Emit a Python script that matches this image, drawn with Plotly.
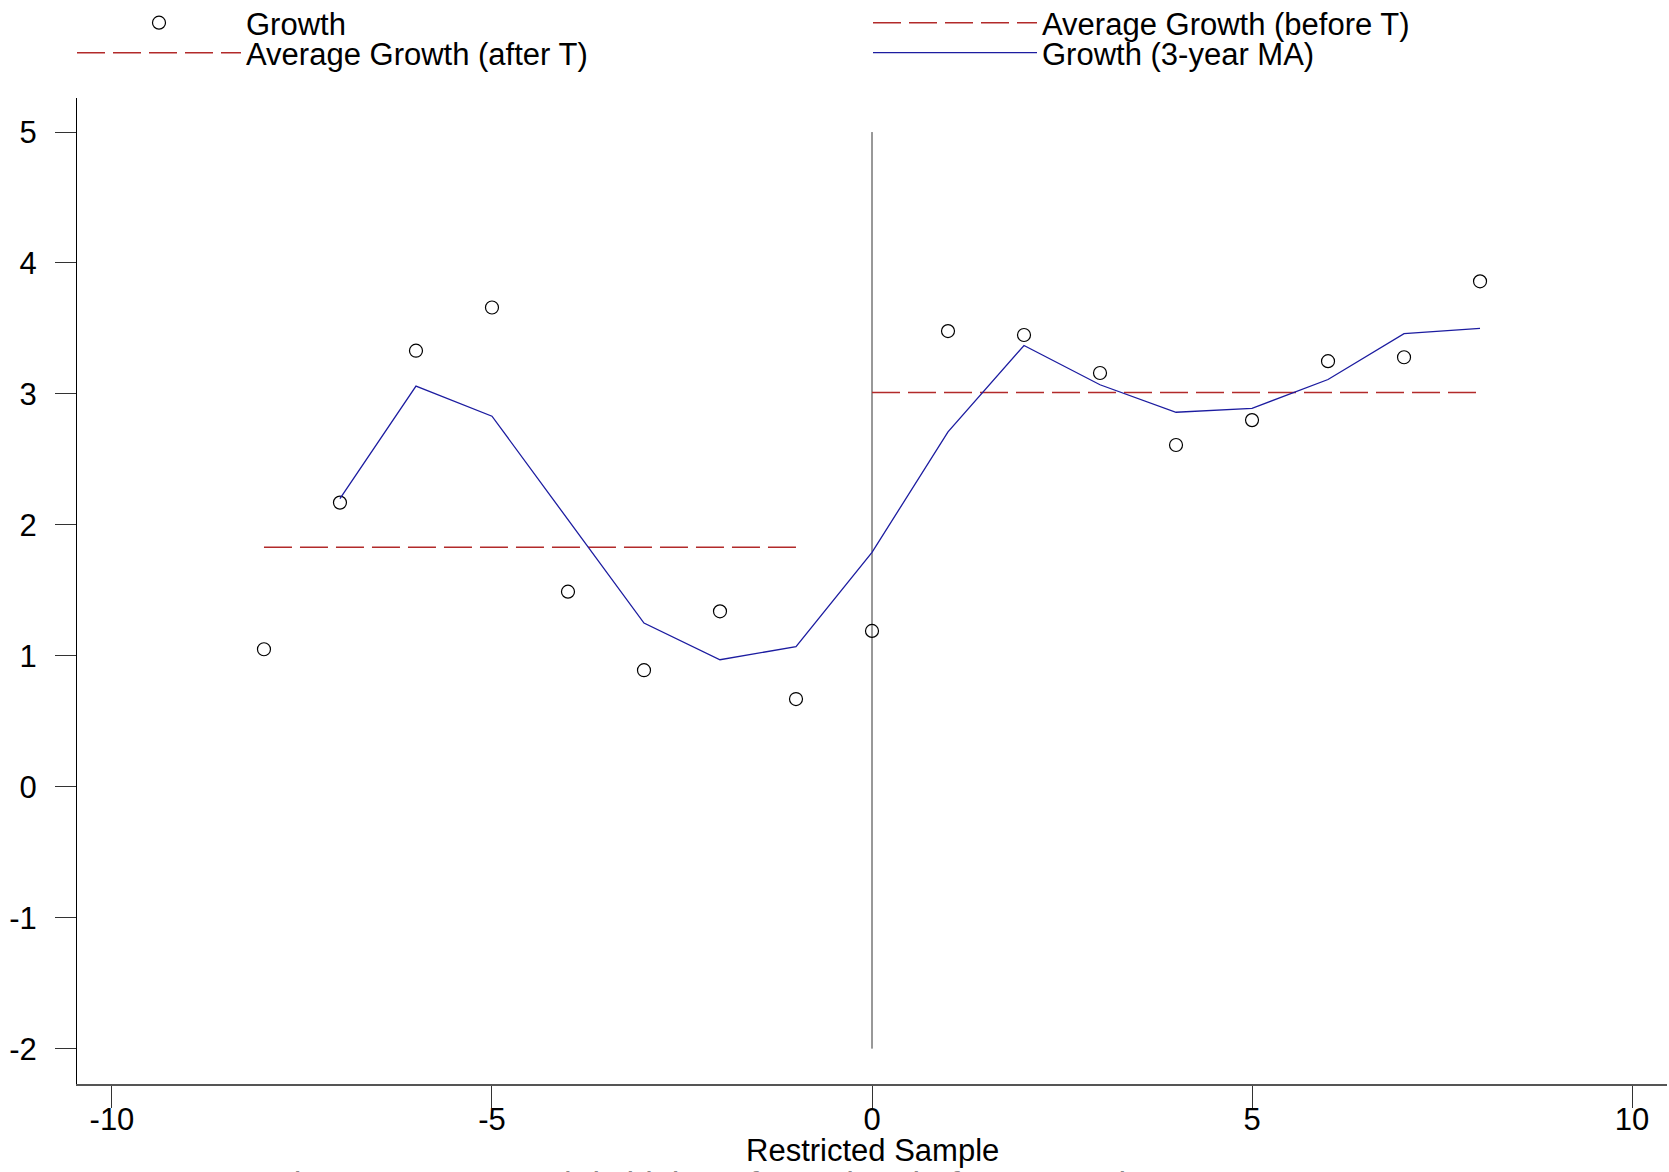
import plotly.graph_objects as go

# Years relative to the break point T
years = [-8, -7, -6, -5, -4, -3, -2, -1, 0, 1, 2, 3, 4, 5, 6, 7, 8]
growth = [1.05, 2.17, 3.33, 3.66, 1.49, 0.89, 1.34, 0.67, 1.19,
          3.48, 3.45, 3.16, 2.61, 2.80, 3.25, 3.28, 3.86]

# 3-year moving average of growth
ma_years = [-7, -6, -5, -4, -3, -2, -1, 0, 1, 2, 3, 4, 5, 6, 7, 8]
growth_ma = [2.20, 3.06, 2.83, 2.04, 1.25, 0.97, 1.07, 1.79,
             2.71, 3.37, 3.07, 2.86, 2.89, 3.11, 3.46, 3.50]

# Period averages
before_years = [-8, -1]
avg_before = 1.83
after_years = [0, 8]
avg_after = 3.01

# Break marker
break_year = 0
break_span = [5, -2]

x_ticks = [-10, -5, 0, 5, 10]
y_ticks = [-2, -1, 0, 1, 2, 3, 4, 5]

FONT = "Liberation Sans, Arial, sans-serif"
FS = 31
RED = "#b22a2a"
BLUE = "#1c1ca0"

fig = go.Figure()

fig.add_trace(go.Scatter(
    x=[break_year, break_year], y=break_span, mode="lines",
    line=dict(color="#333333", width=1), showlegend=False, hoverinfo="skip"))

fig.add_trace(go.Scatter(
    x=years, y=growth, mode="markers", name="Growth",
    marker=dict(symbol="circle-open", size=13, color="black",
                line=dict(width=1.2, color="black")),
    legend="legend"))

fig.add_trace(go.Scatter(
    x=before_years, y=[avg_before] * len(before_years), mode="lines",
    name="Average Growth (before T)",
    line=dict(color=RED, width=1.5, dash="28px,8px"),
    legend="legend2"))

fig.add_trace(go.Scatter(
    x=after_years, y=[avg_after] * len(after_years), mode="lines",
    name="Average Growth (after T)",
    line=dict(color=RED, width=1.5, dash="28px,8px"),
    legend="legend3"))

fig.add_trace(go.Scatter(
    x=ma_years, y=growth_ma, mode="lines", name="Growth (3-year MA)",
    line=dict(color=BLUE, width=1.3),
    legend="legend4"))

W, H = 1669, 1172


def leg(x_px, y_px):
    return dict(
        x=x_px / W, y=1 - y_px / H, xref="container", yref="container",
        xanchor="left", yanchor="middle", orientation="v",
        bgcolor="rgba(0,0,0,0)", borderwidth=0, itemwidth=164,
        font=dict(family=FONT, size=FS, color="black"),
        itemclick=False, itemdoubleclick=False)


fig.update_layout(
    width=W, height=H,
    margin=dict(l=77, r=2, t=98, b=88, autoexpand=False),
    paper_bgcolor="white", plot_bgcolor="white",
    font=dict(family=FONT, size=FS, color="black"),
    showlegend=True,
    legend=leg(72, 23),
    legend2=leg(868, 23),
    legend3=leg(72, 53),
    legend4=leg(868, 53),
    xaxis=dict(
        range=[-10.46, 10.46], tickvals=x_ticks,
        ticktext=[str(v) for v in x_ticks],
        showgrid=False, zeroline=False, automargin=False,
        showline=True, linecolor="#555555", linewidth=2,
        ticks="outside", ticklen=22, tickwidth=1, tickcolor="#333333",
        ticklabelstandoff=-15,
        tickfont=dict(family=FONT, size=FS, color="black"),
    ),
    yaxis=dict(
        range=[-2.27, 5.26], tickvals=y_ticks,
        ticktext=[str(v) for v in y_ticks],
        showgrid=False, zeroline=False, automargin=False,
        showline=True, linecolor="black", linewidth=1,
        ticks="outside", ticklen=21, tickwidth=1, tickcolor="#333333",
        ticklabelstandoff=12,
        tickfont=dict(family=FONT, size=FS, color="black"),
    ),
)

# x-axis title, centred under the plot area
fig.add_annotation(
    text="Restricted Sample", xref="paper", yref="paper",
    x=0.5, y=-0.0675, yanchor="middle", xanchor="center", showarrow=False,
    font=dict(family=FONT, size=FS, color="black"))

fig.add_annotation(
    text="The average Growth is higher after T than before, Growth MA",
    xref="paper", yref="paper", x=0.414, y=-0.079, yanchor="top",
    xanchor="center", showarrow=False,
    font=dict(family=FONT, size=34, color="#888888"))

fig.write_html("out.html")
